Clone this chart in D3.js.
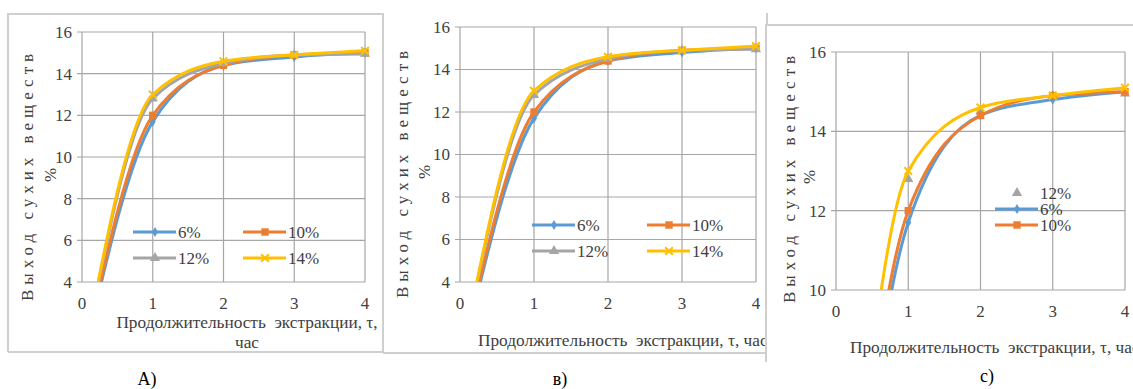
<!DOCTYPE html>
<html>
<head>
<meta charset="utf-8">
<script src="https://cdn.jsdelivr.net/npm/d3@7"></script>
<style>
  body { margin: 0; background: #fff; }
  svg text { font-family: "Liberation Serif", "DejaVu Serif", "Times New Roman", serif !important; }
</style>
</head>
<body>
<div id="chart"></div>
<script>
// data
var hours = [0, 1, 2, 3, 4];
var s6  = [0, 11.7, 14.4, 14.8, 15.0];
var s10 = [0, 12.0, 14.4, 14.9, 15.0];
var s12 = [0, 12.8, 14.5, 14.9, 14.95];
var s14 = [0, 13.0, 14.6, 14.9, 15.1];
var seriesNames = ["6%", "10%", "12%", "14%"];
var xTicks = [0, 1, 2, 3, 4];
var yTicksAB = [4, 6, 8, 10, 12, 14, 16];
var yTicksC = [10, 12, 14, 16];
var panelLabels = ["A)", "в)", "c)"];

var colors = ["#5B9BD5", "#ED7D31", "#A5A5A5", "#FFC000"];
var symbols = [d3.symbolDiamond, d3.symbolSquare, d3.symbolTriangle, d3.symbolX];
var symSizes = [30, 55, 45, 40];
var allSeries = [s6, s10, s12, s14];
var serif = "Liberation Serif";

var svg = d3.select("#chart").append("svg")
  .attr("width", 1133)
  .attr("height", 389);

// panel layouts
var panels = [
  { box: [8, 14, 383, 352], plot: [82, 32, 365, 282], yDom: [4, 16], yTicks: yTicksAB,
    xTitle: ["Продолжительность  экстракции, τ,", "час"], xTitleX: 247, xTitleY: 328,
    yTitleX: 27, pctX: 50, yMid: 175, top: true, bottom: true,
    legend: { rows: [[0, 1], [2, 3]], x: 133, y: 232, dx: 110, dy: 26 },
    label: [147, 385] },
  { box: [383, 14, 767, 353], plot: [460, 27, 756, 282], yDom: [4, 16], yTicks: yTicksAB,
    xTitle: ["Продолжительность  экстракции, τ, час"], xTitleX: 478, xTitleY: 346, anchorStart: true,
    yTitleX: 402, pctX: 424, yMid: 172, top: false, bottom: true,
    legend: { rows: [[0, 1], [2, 3]], x: 532, y: 225, dx: 115, dy: 26 },
    label: [560, 385] },
  { box: [766, 25, 1140, 362], plot: [836, 52, 1125, 290], yDom: [10, 16], yTicks: yTicksC,
    xTitle: ["Продолжительность  экстракции, τ, час"], xTitleX: 850, xTitleY: 353, anchorStart: true,
    yTitleX: 789, pctX: 809, yMid: 177, cMode: true, top: true, bottom: false,
    legend: { rows: [[2], [0], [1]], x: 995, y: 193, dx: 0, dy: 16 },
    label: [987, 382] }
];

var line = d3.line().curve(d3.curveMonotoneX);

function txt(sel, size) {
  return sel.style("font-family", serif).style("font-size", size + "px").attr("fill", "#404040");
}

panels.forEach(function(p, pi) {
  var g = svg.append("g");
  var b = p.box;
  // white backdrop + frame
  g.append("rect")
    .attr("x", b[0]).attr("y", b[1])
    .attr("width", b[2] - b[0]).attr("height", b[3] - b[1])
    .attr("fill", "#fff");
  var frame = [[b[0], b[3], b[0], b[1] - 1], [b[2], b[3], b[2], b[1] - 1]];
  if (p.top) frame.push([b[0] - 1, b[1], b[2] + 1, b[1]]);
  if (p.bottom) frame.push([b[0], b[3], b[2], b[3]]);
  g.selectAll(".fr").data(frame).enter().append("line")
    .attr("x1", function(d) { return d[0]; }).attr("y1", function(d) { return d[1]; })
    .attr("x2", function(d) { return d[2]; }).attr("y2", function(d) { return d[3]; })
    .attr("stroke", "#cfcfcf").attr("stroke-width", 2);

  var x = d3.scaleLinear().domain([0, 4]).range([p.plot[0], p.plot[2]]);
  var y = d3.scaleLinear().domain(p.yDom).range([p.plot[3], p.plot[1]]);

  // grid
  g.selectAll(".hg").data(p.yTicks).enter().append("line")
    .attr("x1", x(0) - 5).attr("x2", x(4))
    .attr("y1", function(d) { return y(d); }).attr("y2", function(d) { return y(d); })
    .attr("stroke", "#a6a6a6").attr("stroke-width", 1.2);
  g.selectAll(".vg").data(xTicks).enter().append("line")
    .attr("x1", function(d) { return x(d); }).attr("x2", function(d) { return x(d); })
    .attr("y1", y(p.yDom[0])).attr("y2", y(p.yDom[1]))
    .attr("stroke", "#a6a6a6").attr("stroke-width", 1.2);

  // tick labels
  txt(g.selectAll(".yl").data(p.yTicks).enter().append("text"), 17)
    .attr("x", x(0) - 10).attr("y", function(d) { return y(d); })
    .attr("dy", "0.35em").attr("text-anchor", "end")
    .text(function(d) { return d; });
  txt(g.selectAll(".xl").data(xTicks).enter().append("text"), 17)
    .attr("x", function(d) { return x(d); }).attr("y", y(p.yDom[0]) + 21)
    .attr("dy", "0.35em").attr("text-anchor", "middle")
    .text(function(d) { return d; });

  // axis titles
  p.xTitle.forEach(function(t, i) {
    txt(g.append("text"), 17.3)
      .attr("x", p.xTitleX).attr("y", p.xTitleY + i * 20)
      .attr("text-anchor", p.anchorStart ? "start" : "middle")
      .style("white-space", "pre")
      .text(t);
  });
  txt(g.append("text"), 17)
    .attr("transform", "translate(" + p.yTitleX + "," + p.yMid + ")rotate(-90)")
    .attr("dy", "0.35em").attr("text-anchor", "middle")
    .style("letter-spacing", "5px")
    .text("Выход сухих веществ");
  txt(g.append("text"), 17)
    .attr("transform", "translate(" + p.pctX + "," + p.yMid + ")rotate(-90)")
    .attr("dy", "0.35em").attr("text-anchor", "middle")
    .text("%");

  // clip for lines
  var cid = "clip" + pi;
  g.append("clipPath").attr("id", cid).append("rect")
    .attr("x", x(0) - 10).attr("y", y(p.yDom[1]) - 10)
    .attr("width", x(4) - x(0) + 30).attr("height", y(p.yDom[0]) - y(p.yDom[1]) + 10);

  var plotG = g.append("g").attr("clip-path", "url(#" + cid + ")");
  var order = p.cMode ? [2, 0, 1, 3] : [0, 1, 2, 3];
  order.forEach(function(si) {
    var vals = allSeries[si];
    var pts = hours.map(function(h, i) { return [x(h), y(vals[i])]; });
    var noLine = p.cMode && si === 2;
    if (!noLine) {
      plotG.append("path")
        .attr("d", line(pts))
        .attr("fill", "none")
        .attr("stroke", colors[si])
        .attr("stroke-width", 3);
    }
    hours.forEach(function(h, i) {
      if (vals[i] < p.yDom[0]) return;
      var sym = plotG.append("path")
        .attr("transform", "translate(" + x(h) + "," + y(vals[i]) + ")")
        .attr("d", d3.symbol().type(symbols[si]).size(symSizes[si])());
      if (si === 3) sym.attr("fill", "none").attr("stroke", colors[si]).attr("stroke-width", 2);
      else sym.attr("fill", colors[si]);
    });
  });

  // legend
  var L = p.legend;
  L.rows.forEach(function(row, ri) {
    row.forEach(function(si, ci) {
      var lx = L.x + ci * L.dx, ly = L.y + ri * L.dy;
      var lg = g.append("g");
      var noLine = p.cMode && si === 2;
      if (!noLine) {
        lg.append("line")
          .attr("x1", lx).attr("x2", lx + 43)
          .attr("y1", ly).attr("y2", ly)
          .attr("stroke", colors[si]).attr("stroke-width", 3);
      }
      var s = lg.append("path")
        .attr("transform", "translate(" + (lx + 22) + "," + ly + ")")
        .attr("d", d3.symbol().type(symbols[si]).size(symSizes[si])());
      if (si === 3) s.attr("fill", "none").attr("stroke", colors[si]).attr("stroke-width", 2);
      else s.attr("fill", colors[si]);
      txt(lg.append("text"), 17)
        .attr("x", lx + 45).attr("y", ly)
        .attr("dy", "0.35em")
        .text(seriesNames[si]);
    });
  });

  // panel letter
  txt(svg.append("text"), 18)
    .attr("x", p.label[0]).attr("y", p.label[1])
    .attr("text-anchor", "middle")
    .attr("fill", "#000")
    .text(panelLabels[pi]);
});
</script>
</body>
</html>
